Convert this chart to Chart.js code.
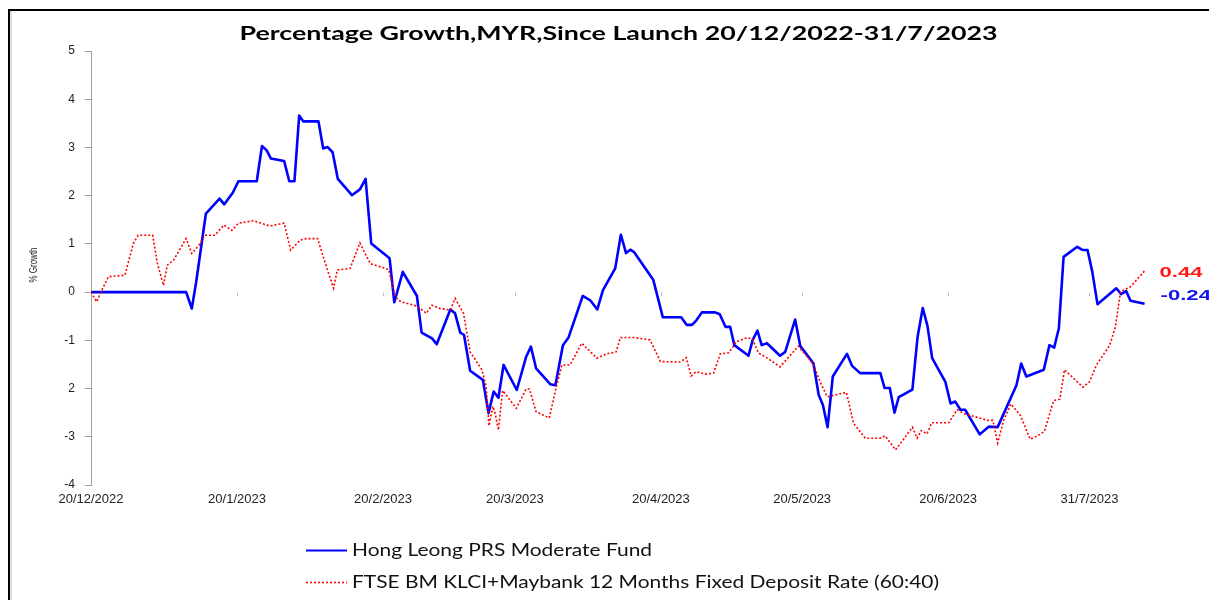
<!DOCTYPE html>
<html>
<head>
<meta charset="utf-8">
<script src="https://cdn.jsdelivr.net/npm/chart.js@4.4.1/dist/chart.umd.min.js"></script>
<style>
html, body { margin: 0; padding: 0; background: #ffffff; }
canvas { display: block; }
</style>
</head>
<body>
<canvas id="chart" width="1209" height="600"></canvas>
<script>
// ---------------- data ----------------
const chartTitle = 'Percentage Growth,MYR,Since Launch 20/12/2022-31/7/2023';
const yAxisTitle = '% Growth';
const fundLabel = 'Hong Leong PRS Moderate Fund';
const benchLabel = 'FTSE BM KLCI+Maybank 12 Months Fixed Deposit Rate (60:40)';

// x = calendar days since launch (20/12/2022)
const xTickDays = [0, 31, 62, 90, 121, 151, 182, 212];
const xTickLabels = ['20/12/2022', '20/1/2023', '20/2/2023', '20/3/2023', '20/4/2023', '20/5/2023', '20/6/2023', '31/7/2023'];
const yTickValues = [5, 4, 3, 2, 1, 0, -1, -2, -3, -4];
const yTickLabels = ['5', '4', '3', '2', '1', '0', '-1', '2', '-3', '-4'];

const fundDays = [
  0, 20.2, 21.4, 22.3, 24.4, 27.3, 28.3, 30.1, 31.3, 35.2,
  36.3, 37.3, 38.2, 41.0, 42.1, 43.2, 44.2, 45.1, 48.3, 49.3,
  50.2, 51.3, 52.4, 55.4, 57.1, 58.3, 59.5, 63.4, 64.4, 66.2,
  69.2, 70.2, 72.4, 73.4, 76.3, 77.3, 78.4, 79.2, 80.5, 83.2,
  84.4, 85.5, 86.5, 87.6, 90.4, 92.4, 93.4, 94.5, 97.5, 98.6,
  100.2, 101.4, 104.4, 106.0, 107.5, 108.7, 111.3, 112.5, 113.6, 114.5,
  115.3, 119.4, 121.4, 125.3, 126.5, 127.6, 128.5, 129.7, 132.5, 133.5,
  134.7, 135.7, 136.6, 139.6, 140.5, 141.5, 142.4, 143.5, 146.3, 147.4,
  149.5, 150.6, 151.7, 153.4, 154.5, 155.4, 156.4, 157.5, 160.5, 161.6,
  163.3, 167.6, 168.5, 169.6, 170.6, 171.5, 174.4, 175.5, 176.6, 177.6,
  178.6, 181.4, 182.5, 183.5, 184.6, 185.6, 188.7, 190.6, 192.5, 196.5,
  197.5, 198.6, 202.3, 203.5, 204.5, 205.5, 206.5, 209.4, 210.4, 211.6,
  212.6, 213.7, 217.7, 218.7, 219.8, 220.7, 223.7
];
const fundValues = [
  0, 0, -0.34, 0.19, 1.63, 1.94, 1.82, 2.06, 2.30, 2.30,
  3.03, 2.94, 2.77, 2.72, 2.30, 2.30, 3.66, 3.54, 3.54, 2.98,
  3.01, 2.90, 2.35, 2.01, 2.13, 2.35, 1.01, 0.70, -0.21, 0.42,
  -0.08, -0.84, -0.96, -1.08, -0.36, -0.44, -0.84, -0.89, -1.63, -1.82,
  -2.51, -2.06, -2.19, -1.51, -2.03, -1.34, -1.13, -1.58, -1.91, -1.93,
  -1.10, -0.94, -0.08, -0.17, -0.36, 0.04, 0.49, 1.19, 0.81, 0.88,
  0.83, 0.25, -0.52, -0.52, -0.68, -0.68, -0.59, -0.42, -0.42, -0.46,
  -0.72, -0.72, -1.10, -1.32, -0.99, -0.80, -1.10, -1.06, -1.32, -1.24,
  -0.57, -1.12, -1.26, -1.48, -2.13, -2.34, -2.80, -1.75, -1.28, -1.53,
  -1.68, -1.68, -1.99, -1.99, -2.50, -2.18, -2.02, -0.93, -0.33, -0.70,
  -1.37, -1.86, -2.31, -2.27, -2.44, -2.44, -2.95, -2.79, -2.80, -1.93,
  -1.48, -1.75, -1.61, -1.10, -1.15, -0.75, 0.73, 0.94, 0.88, 0.87,
  0.42, -0.25, 0.08, -0.04, 0.02, -0.18, -0.24
];

const benchDays = [
  0, 1.2, 2.3, 3.7, 7.2, 9.0, 10.0, 13.1, 14.1, 15.4,
  16.2, 17.5, 20.2, 21.4, 22.9, 24.2, 26.3, 28.2, 29.9, 31.3,
  34.5, 38.0, 41.0, 42.4, 44.4, 45.8, 48.1, 50.1, 51.5, 52.3,
  55.0, 57.1, 59.3, 63.2, 64.6, 65.8, 69.2, 71.2, 72.4, 74.1,
  76.3, 77.3, 79.1, 80.5, 83.0, 83.9, 84.5, 85.3, 85.8, 86.5,
  87.4, 90.3, 92.4, 93.1, 94.5, 97.3, 98.8, 100.0, 101.7, 104.2,
  107.4, 109.5, 111.5, 112.4, 115.2, 118.7, 120.9, 125.1, 126.4, 127.4,
  128.5, 130.4, 132.2, 133.6, 135.4, 137.0, 139.3, 140.5, 141.7, 143.6,
  146.3, 150.2, 153.3, 154.8, 156.3, 160.4, 161.9, 164.4, 167.6, 168.6,
  170.8, 172.7, 174.4, 175.4, 176.3, 177.5, 178.5, 182.1, 183.9, 185.6,
  188.3, 190.4, 191.5, 192.5, 193.8, 195.3, 197.3, 199.4, 201.0, 202.4,
  204.4, 205.7, 206.7, 210.6, 212.0, 213.5, 216.3, 217.5, 218.6, 220.7,
  223.7
];
const benchValues = [
  0, -0.20, 0.04, 0.32, 0.35, 1.01, 1.18, 1.18, 0.59, 0.14,
  0.56, 0.66, 1.11, 0.80, 0.97, 1.18, 1.18, 1.39, 1.28, 1.43,
  1.48, 1.37, 1.43, 0.87, 1.08, 1.11, 1.11, 0.49, 0.08, 0.46,
  0.49, 1.02, 0.59, 0.47, -0.10, -0.20, -0.29, -0.44, -0.27, -0.34,
  -0.37, -0.13, -0.44, -1.24, -1.61, -1.96, -2.77, -2.37, -2.51, -2.86,
  -2.04, -2.41, -2.01, -2.01, -2.48, -2.61, -1.96, -1.51, -1.51, -1.06,
  -1.37, -1.28, -1.24, -0.94, -0.94, -0.99, -1.44, -1.45, -1.36, -1.74,
  -1.65, -1.70, -1.68, -1.28, -1.26, -1.03, -0.94, -0.98, -1.26, -1.37,
  -1.55, -1.12, -1.48, -1.86, -2.17, -2.08, -2.72, -3.03, -3.03, -2.98,
  -3.27, -3.03, -2.80, -3.03, -2.87, -2.94, -2.71, -2.71, -2.44, -2.53,
  -2.60, -2.66, -2.66, -3.13, -2.65, -2.32, -2.55, -3.05, -2.98, -2.89,
  -2.25, -2.22, -1.61, -1.97, -1.86, -1.51, -1.10, -0.72, 0.01, 0.11,
  0.44
];

// ---------------- styles ----------------
const FUND_COLOR = '#0000ff';
const BENCH_COLOR = '#ff0000';
const TEXT_FONT = '"Liberation Sans", Arial, sans-serif';
const TITLE_FONT = 'Lato, "Open Sans", sans-serif';

function toPoints(days, values) {
  return days.map((d, i) => ({ x: d, y: values[i] }));
}

function textWidth(ctx, text, font) {
  ctx.save();
  ctx.font = font;
  const w = ctx.measureText(text).width;
  ctx.restore();
  return w;
}

// draws text horizontally stretched by sx
function drawStretched(ctx, text, x, y, font, sx, align, color) {
  ctx.save();
  ctx.font = font;
  ctx.fillStyle = color;
  ctx.textBaseline = 'alphabetic';
  ctx.textAlign = 'left';
  const w = ctx.measureText(text).width * sx;
  const left = align === 'center' ? x - w / 2 : (align === 'right' ? x - w : x);
  ctx.translate(left, y);
  ctx.scale(sx, 1);
  ctx.fillText(text, 0, 0);
  ctx.restore();
}

const decorPlugin = {
  id: 'decor',
  beforeDraw(chart) {
    const ctx = chart.ctx;
    ctx.save();
    ctx.fillStyle = '#ffffff';
    ctx.fillRect(0, 0, chart.width, chart.height);
    // outer frame (top and left edges visible)
    ctx.fillStyle = '#000000';
    ctx.fillRect(8, 9, chart.width - 8, 2);
    ctx.fillRect(8, 9, 2, chart.height - 9);
    ctx.fillStyle = '#d4d4d4';
    ctx.fillRect(10.5, 11, 1.5, chart.height - 11);
    ctx.restore();
  },
  afterDraw(chart) {
    const ctx = chart.ctx;
    const area = chart.chartArea;
    const xs = chart.scales.x;
    const ys = chart.scales.y;

    // title
    const titleFont = 'bold 18px ' + TITLE_FONT;
    const tsx = 758 / textWidth(ctx, chartTitle, titleFont);
    drawStretched(ctx, chartTitle, (area.left + area.right) / 2, 39.5, titleFont, tsx, 'center', '#000000');

    // y axis title (rotated)
    ctx.save();
    ctx.translate(34, 265);
    ctx.scale(1.3, 1);
    ctx.rotate(-Math.PI / 2);
    ctx.font = '8px ' + TEXT_FONT;
    ctx.fillStyle = '#222222';
    ctx.textAlign = 'center';
    ctx.textBaseline = 'middle';
    ctx.fillText(yAxisTitle, 0, 0);
    ctx.restore();

    // small tick marks on the zero line
    const y0 = ys.getPixelForValue(0);
    ctx.save();
    ctx.strokeStyle = '#bdbdbd';
    ctx.lineWidth = 1;
    xTickDays.forEach((d) => {
      if (d === xs.min) return;
      const px = Math.round(xs.getPixelForValue(d)) + 0.5;
      ctx.beginPath();
      ctx.moveTo(px, y0 + 0.5);
      ctx.lineTo(px, y0 + 4);
      ctx.stroke();
    });
    ctx.restore();

    // end-value labels
    const endFont = 'bold 14px ' + TEXT_FONT;
    const benchLast = benchValues[benchValues.length - 1];
    const fundLast = fundValues[fundValues.length - 1];
    const benchText = benchLast.toFixed(2);
    const fundText = fundLast.toFixed(2);
    const esx = 43 / textWidth(ctx, benchText, endFont);
    const lx = xs.getPixelForValue(benchDays[benchDays.length - 1]) + 15;
    drawStretched(ctx, benchText, lx, ys.getPixelForValue(benchLast) + 6, endFont, esx, 'left', '#ff1a1a');
    drawStretched(ctx, fundText, lx + 1, ys.getPixelForValue(fundLast) - 3.5, endFont, esx, 'left', '#1414ee');

    // legend (two rows)
    const legFont = '17px ' + TITLE_FONT;
    const lsx = 587 / textWidth(ctx, benchLabel, legFont);
    const rows = [
      { ds: chart.data.datasets[1], y: 550 },
      { ds: chart.data.datasets[0], y: 582 }
    ];
    rows.forEach((r) => {
      ctx.save();
      ctx.strokeStyle = r.ds.borderColor;
      ctx.lineWidth = r.ds.borderDash && r.ds.borderDash.length ? 1.6 : 2;
      ctx.setLineDash(r.ds.borderDash || []);
      ctx.beginPath();
      ctx.moveTo(306, r.y + 0.5);
      ctx.lineTo(347, r.y + 0.5);
      ctx.stroke();
      ctx.restore();
      drawStretched(ctx, r.ds.label, 352, r.y + 6, legFont, lsx, 'left', '#111111');
    });
  }
};

new Chart(document.getElementById('chart'), {
  type: 'line',
  data: {
    datasets: [
      {
        label: benchLabel,
        data: toPoints(benchDays, benchValues),
        borderColor: BENCH_COLOR,
        borderWidth: 1.6,
        borderDash: [2, 2],
        pointRadius: 0,
        tension: 0,
        fill: false,
        order: 1
      },
      {
        label: fundLabel,
        data: toPoints(fundDays, fundValues),
        borderColor: FUND_COLOR,
        borderWidth: 2.6,
        borderJoinStyle: 'round',
        pointRadius: 0,
        tension: 0,
        fill: false,
        order: 2
      }
    ]
  },
  options: {
    responsive: false,
    animation: false,
    devicePixelRatio: 1,
    layout: { padding: { top: 51, right: 63, left: 0, bottom: 0 } },
    plugins: {
      legend: { display: false },
      title: { display: false },
      tooltip: { enabled: false }
    },
    scales: {
      x: {
        type: 'linear',
        min: 0,
        max: 224,
        afterBuildTicks: (scale) => { scale.ticks = xTickDays.map((v) => ({ value: v })); },
        afterFit: (scale) => { scale.height = 115; },
        grid: { display: false, drawTicks: false },
        border: { display: false },
        ticks: {
          autoSkip: false,
          maxRotation: 0,
          padding: 7,
          color: '#222222',
          font: { family: TEXT_FONT, size: 13 },
          callback: (v) => {
            const i = xTickDays.indexOf(v);
            return i >= 0 ? xTickLabels[i] : '';
          }
        }
      },
      y: {
        min: -4,
        max: 5,
        afterFit: (scale) => { scale.width = 91; },
        grid: { drawOnChartArea: false, drawTicks: true, tickLength: 6, color: '#a0a0a0' },
        border: { display: true, color: '#a0a0a0', width: 1 },
        ticks: {
          stepSize: 1,
          padding: 10,
          color: '#222222',
          font: { family: TEXT_FONT, size: 12 },
          callback: (v) => {
            const i = yTickValues.indexOf(v);
            return i >= 0 ? yTickLabels[i] : '';
          }
        }
      }
    }
  },
  plugins: [decorPlugin]
});
</script>
</body>
</html>
